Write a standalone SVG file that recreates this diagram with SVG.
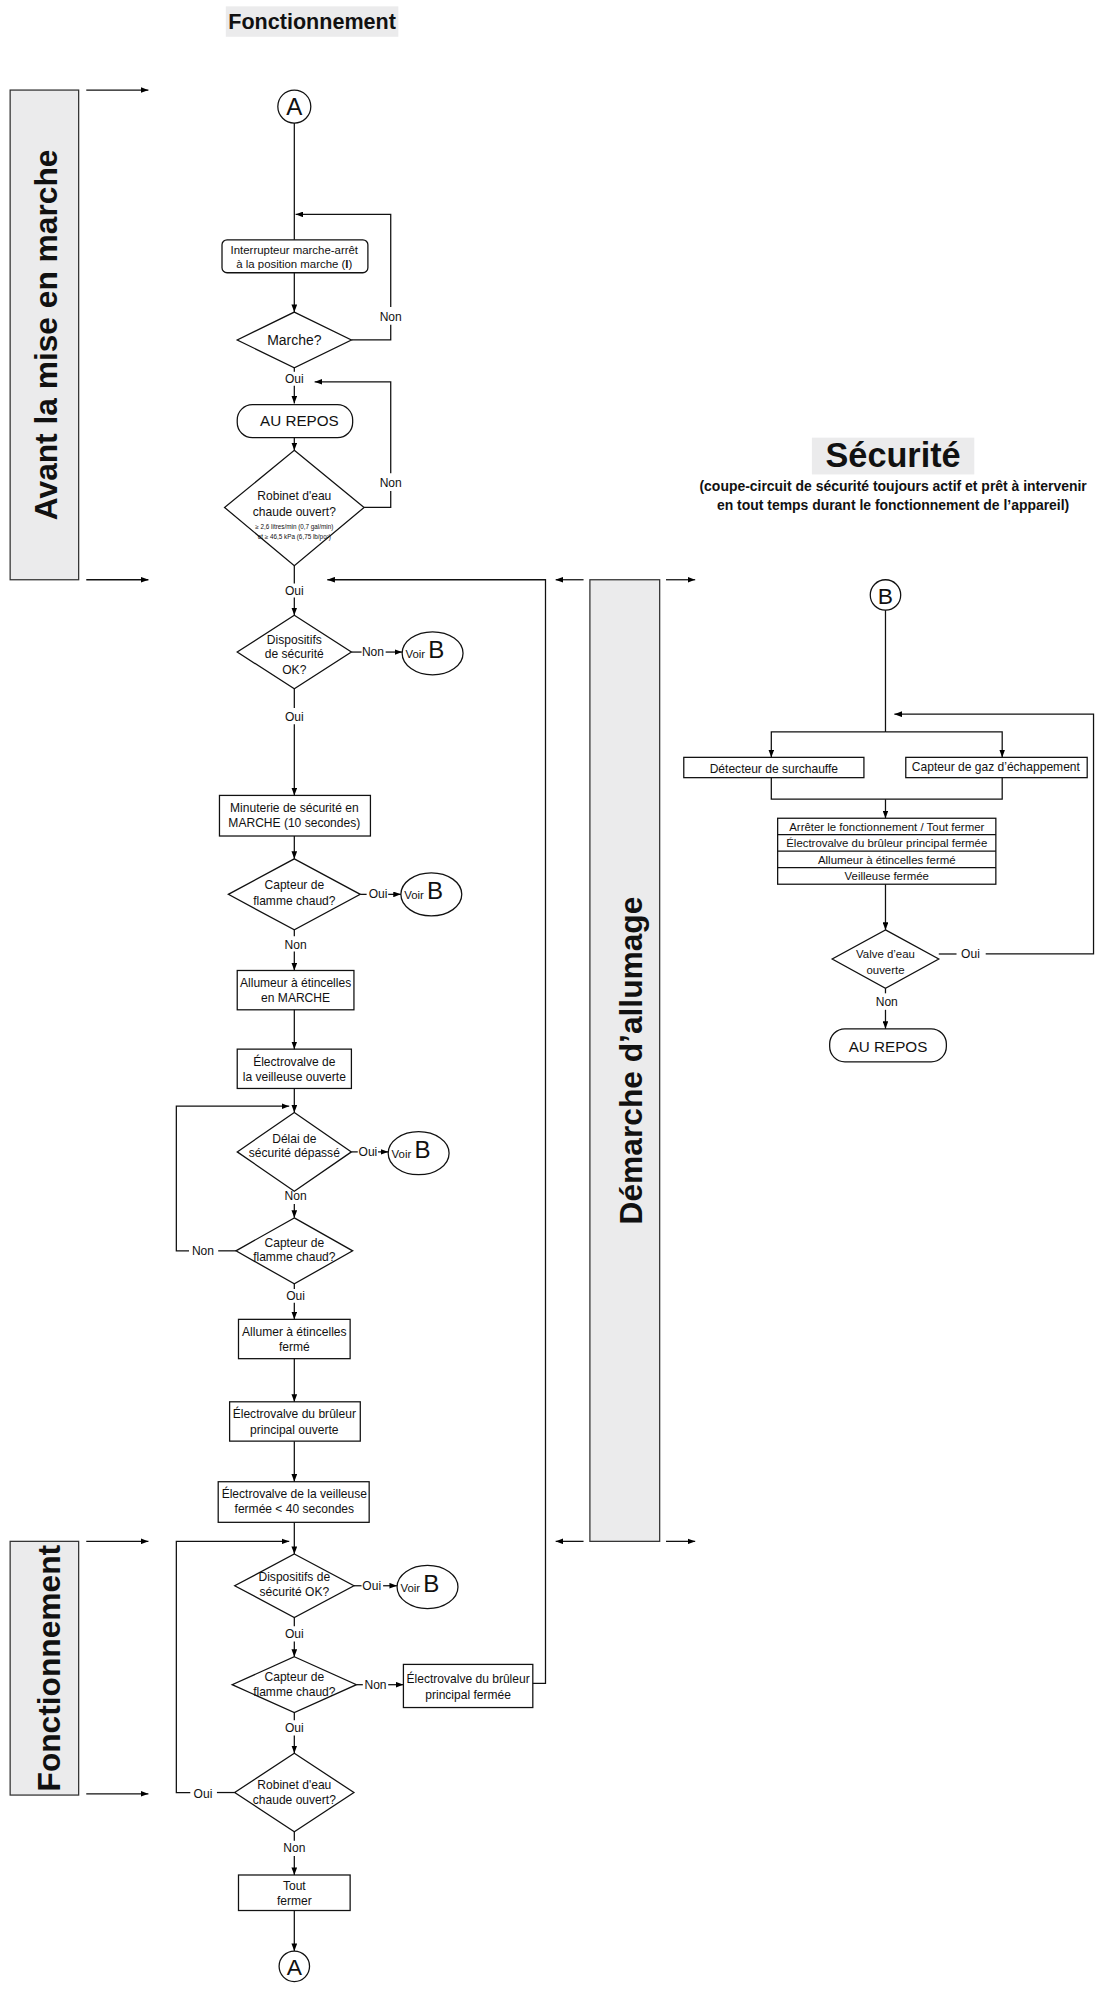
<svg xmlns="http://www.w3.org/2000/svg" width="1110" height="1998" viewBox="0 0 1110 1998">
<defs>
<marker id="ah" viewBox="0 0 8 6" refX="8" refY="3" markerWidth="6" markerHeight="4.5" markerUnits="userSpaceOnUse" orient="auto"><path d="M0,0 L8,3 L0,6 z" fill="#000"/></marker>
<style>
text{font-family:"Liberation Sans",Arial,sans-serif;fill:#111;text-anchor:middle}
.s{fill:#fff;stroke:#111;stroke-width:1}
.band{fill:#ebebec;stroke:#333;stroke-width:1}
.c line,.c polyline,.c path{fill:none;stroke:#111;stroke-width:1}
.a{marker-end:url(#ah)}
.t{font-size:9.5px}
.l{font-size:9.5px}
.big{font-size:25px;font-weight:bold}
</style>
</defs>
<rect width="1110" height="1998" fill="#fff"/>
<g transform="scale(1.2686)">
<g id="titles">
<rect x="178" y="5" width="136" height="24" fill="#ebebec"/>
<text x="246" y="23" style="font-size:17px;font-weight:bold">Fonctionnement</text>
<rect x="640" y="345" width="128" height="29" fill="#ebebec"/>
<text x="704" y="368" style="font-size:27px;font-weight:bold">Sécurité</text>
<text x="704" y="387" style="font-size:11px;font-weight:bold">(coupe-circuit de sécurité toujours actif et prêt à intervenir</text>
<text x="704" y="402" style="font-size:11px;font-weight:bold">en tout temps durant le fonctionnement de l’appareil)</text>
</g>
<g id="band1"><rect class="band" x="8" y="71" width="54" height="386"/><text class="big" transform="translate(45,264) rotate(-90)">Avant la mise en marche</text></g>
<g id="band2"><rect class="band" x="8" y="1215" width="54" height="200"/><text class="big" transform="translate(47,1315) rotate(-90)">Fonctionnement</text></g>
<g id="band3"><rect class="band" x="465" y="457" width="55" height="758"/><text class="big" transform="translate(506,836) rotate(-90)">Démarche d’allumage</text></g>
<g class="c" id="bandarrows">
<line class="a" x1="68" y1="71" x2="117" y2="71"/><line class="a" x1="68" y1="457" x2="117" y2="457"/>
<line class="a" x1="68" y1="1215" x2="117" y2="1215"/><line class="a" x1="68" y1="1414" x2="117" y2="1414"/>
<line class="a" x1="460" y1="457" x2="438" y2="457"/><line class="a" x1="525" y1="457" x2="548" y2="457"/>
<line class="a" x1="460" y1="1215" x2="438" y2="1215"/><line class="a" x1="525" y1="1215" x2="548" y2="1215"/>
</g>

<g id="nA1"><circle class="s" cx="232" cy="84" r="13"/><text x="232" y="91" style="font-size:19px">A</text></g>
<g id="n1"><rect class="s" x="175" y="189" width="115" height="26" rx="4"/><text class="t" x="232" y="200" style="font-size:9px">Interrupteur marche-arrêt</text><text class="t" x="232" y="211" style="font-size:9px">à la position marche (<tspan font-weight="bold">I</tspan>)</text></g>
<g id="n2"><polygon class="s" points="232,246 277,268 232,290 187,268"/><text x="232" y="272" style="font-size:11px">Marche?</text></g>
<g id="n3"><rect class="s" x="187" y="319" width="91" height="26" rx="12"/><text x="236" y="336" style="font-size:12px">AU REPOS</text></g>
<g id="n4"><polygon class="s" points="232,355 287,400 232,446 177,400"/><text class="t" x="232" y="394">Robinet d'eau</text><text class="t" x="232" y="407">chaude ouvert?</text><text x="232" y="417" style="font-size:5px">≥ 2,6 litres/min (0,7 gal/min)</text><text x="232" y="425" style="font-size:5px">et ≥ 46,5 kPa (6,75 lb/po²)</text></g>
<g id="n5"><polygon class="s" points="232,485 277,514 232,543 187,514"/><text class="t" x="232" y="508">Dispositifs</text><text class="t" x="232" y="519">de sécurité</text><text class="t" x="232" y="531">OK?</text></g>
<g id="vb1"><ellipse class="s" cx="341" cy="515" rx="24" ry="17"/><text x="335" y="519" style="font-size:9px">Voir <tspan style="font-size:19px">B</tspan></text></g>
<g id="n6"><rect class="s" x="173" y="627" width="119" height="32"/><text class="t" x="232" y="640">Minuterie de sécurité en</text><text class="t" x="232" y="652">MARCHE (10 secondes)</text></g>
<g id="n7"><polygon class="s" points="232,677 284,705 232,733 180,705"/><text class="t" x="232" y="701">Capteur de</text><text class="t" x="232" y="713">flamme chaud?</text></g>
<g id="vb2"><ellipse class="s" cx="340" cy="705" rx="24" ry="17"/><text x="334" y="709" style="font-size:9px">Voir <tspan style="font-size:19px">B</tspan></text></g>
<g id="n8"><rect class="s" x="187" y="765" width="92" height="31"/><text class="t" x="233" y="778">Allumeur à étincelles</text><text class="t" x="233" y="790">en MARCHE</text></g>
<g id="n9"><rect class="s" x="187" y="827" width="90" height="31"/><text class="t" x="232" y="840">Électrovalve de</text><text class="t" x="232" y="852">la veilleuse ouverte</text></g>
<g id="n10"><polygon class="s" points="232,877 277,908 232,939 187,908"/><text class="t" x="232" y="901">Délai de</text><text class="t" x="232" y="912">sécurité dépassé</text></g>
<g id="vb3"><ellipse class="s" cx="330" cy="909" rx="24" ry="17"/><text x="324" y="913" style="font-size:9px">Voir <tspan style="font-size:19px">B</tspan></text></g>
<g id="n11"><polygon class="s" points="232,960 278,986 232,1012 186,986"/><text class="t" x="232" y="983">Capteur de</text><text class="t" x="232" y="994">flamme chaud?</text></g>
<g id="n12"><rect class="s" x="188" y="1040" width="88" height="31"/><text class="t" x="232" y="1053">Allumer à étincelles</text><text class="t" x="232" y="1065">fermé</text></g>
<g id="n13"><rect class="s" x="181" y="1105" width="103" height="31"/><text class="t" x="232" y="1118">Électrovalve du brûleur</text><text class="t" x="232" y="1130">principal ouverte</text></g>
<g id="n14"><rect class="s" x="172" y="1168" width="119" height="32"/><text class="t" x="232" y="1181">Électrovalve de la veilleuse</text><text class="t" x="232" y="1193">fermée &lt; 40 secondes</text></g>
<g id="n15"><polygon class="s" points="232,1225 279,1250 232,1275 185,1250"/><text class="t" x="232" y="1246">Dispositifs de</text><text class="t" x="232" y="1258">sécurité OK?</text></g>
<g id="vb4"><ellipse class="s" cx="337" cy="1251" rx="24" ry="17"/><text x="331" y="1255" style="font-size:9px">Voir <tspan style="font-size:19px">B</tspan></text></g>
<g id="n16"><polygon class="s" points="232,1306 281,1328 232,1350 183,1328"/><text class="t" x="232" y="1325">Capteur de</text><text class="t" x="232" y="1337">flamme chaud?</text></g>
<g id="n17"><rect class="s" x="318" y="1312" width="102" height="34"/><text class="t" x="369" y="1327">Électrovalve du brûleur</text><text class="t" x="369" y="1339">principal fermée</text></g>
<g id="n18"><polygon class="s" points="232,1382 279,1413 232,1444 185,1413"/><text class="t" x="232" y="1410">Robinet d'eau</text><text class="t" x="232" y="1422">chaude ouvert?</text></g>
<g id="n19"><rect class="s" x="188" y="1478" width="88" height="28"/><text class="t" x="232" y="1490">Tout</text><text class="t" x="232" y="1502">fermer</text></g>
<g id="nA2"><circle class="s" cx="232" cy="1550" r="12"/><text x="232" y="1557" style="font-size:18px">A</text></g>

<g id="nB"><circle class="s" cx="698" cy="469" r="12"/><text x="698" y="476" style="font-size:18px">B</text></g>
<g id="r1"><rect class="s" x="539" y="597" width="142" height="16"/><text class="t" x="610" y="609">Détecteur de surchauffe</text></g>
<g id="r2"><rect class="s" x="714" y="597" width="143" height="16"/><text class="t" x="785" y="608">Capteur de gaz d’échappement</text></g>
<g id="r3"><rect class="s" x="613" y="645" width="172" height="52"/><line x1="613" y1="658" x2="785" y2="658" stroke="#111"/><line x1="613" y1="671" x2="785" y2="671" stroke="#111"/><line x1="613" y1="684" x2="785" y2="684" stroke="#111"/>
<text x="699" y="655" style="font-size:9px">Arrêter le fonctionnement / Tout fermer</text><text x="699" y="668" style="font-size:9px">Électrovalve du brûleur principal fermée</text><text x="699" y="681" style="font-size:9px">Allumeur à étincelles fermé</text><text x="699" y="694" style="font-size:9px">Veilleuse fermée</text></g>
<g id="r4"><polygon class="s" points="698,733 740,756 698,779 656,756"/><text class="t" x="698" y="755" style="font-size:9px">Valve d’eau</text><text class="t" x="698" y="768" style="font-size:9px">ouverte</text></g>
<g id="r5"><rect class="s" x="654" y="811" width="92" height="26" rx="12"/><text x="700" y="829" style="font-size:12px">AU REPOS</text></g>

<g class="c" id="connectors">
<line x1="232" y1="97" x2="232" y2="189"/>
<line class="a" x1="232" y1="215" x2="232" y2="246"/>
<polyline points="277,268 308,268 308,256"/><polyline class="a" points="308,242 308,169 233,169"/>
<line x1="232" y1="290" x2="232" y2="293"/><line class="a" x1="232" y1="304" x2="232" y2="318"/>
<polyline points="287,400 308,400 308,387"/><polyline class="a" points="308,373 308,301 248,301"/>
<line class="a" x1="232" y1="345" x2="232" y2="355"/>
<line x1="232" y1="446" x2="232" y2="460"/><line class="a" x1="232" y1="471" x2="232" y2="485"/>
<polyline class="a" points="420,1327 430,1327 430,457 258,457"/>
<line x1="277" y1="514" x2="285" y2="514"/><line class="a" x1="304" y1="514" x2="317" y2="514"/>
<line x1="232" y1="543" x2="232" y2="558"/><line class="a" x1="232" y1="571" x2="232" y2="627"/>
<line class="a" x1="232" y1="659" x2="232" y2="677"/>
<line x1="284" y1="705" x2="289" y2="705"/><line class="a" x1="306" y1="705" x2="316" y2="705"/>
<line x1="232" y1="733" x2="232" y2="738"/><line class="a" x1="232" y1="750" x2="232" y2="765"/>
<line class="a" x1="232" y1="796" x2="232" y2="827"/>
<line class="a" x1="232" y1="858" x2="232" y2="877"/>
<line x1="277" y1="908" x2="282" y2="908"/><line class="a" x1="298" y1="908" x2="306" y2="908"/>
<line class="a" x1="232" y1="949" x2="232" y2="960"/>
<line x1="186" y1="986" x2="172" y2="986"/><polyline class="a" points="149,986 139,986 139,872 228,872"/>
<line x1="232" y1="1012" x2="232" y2="1016"/><line class="a" x1="232" y1="1027" x2="232" y2="1040"/>
<line class="a" x1="232" y1="1071" x2="232" y2="1105"/>
<line class="a" x1="232" y1="1136" x2="232" y2="1168"/>
<line class="a" x1="232" y1="1200" x2="232" y2="1225"/>
<line x1="279" y1="1250" x2="285" y2="1250"/><line class="a" x1="302" y1="1250" x2="313" y2="1250"/>
<line x1="232" y1="1275" x2="232" y2="1282"/><line class="a" x1="232" y1="1294" x2="232" y2="1306"/>
<line x1="281" y1="1328" x2="286" y2="1328"/><line class="a" x1="306" y1="1328" x2="318" y2="1328"/>
<line x1="232" y1="1350" x2="232" y2="1356"/><line class="a" x1="232" y1="1368" x2="232" y2="1382"/>
<line x1="185" y1="1413" x2="171" y2="1413"/><polyline class="a" points="150,1413 139,1413 139,1215 228,1215"/>
<line x1="232" y1="1444" x2="232" y2="1451"/><line class="a" x1="232" y1="1463" x2="232" y2="1478"/>
<line class="a" x1="232" y1="1506" x2="232" y2="1538"/>
<line x1="698" y1="481" x2="698" y2="577"/>
<polyline class="a" points="698,577 608,577 608,597"/><polyline class="a" points="698,577 790,577 790,597"/>
<polyline points="608,613 608,630 790,630 790,613"/>
<line class="a" x1="698" y1="630" x2="698" y2="645"/>
<line class="a" x1="698" y1="697" x2="698" y2="733"/>
<line x1="740" y1="752" x2="754" y2="752"/><polyline class="a" points="777,752 862,752 862,563 705,563"/>
<line x1="698" y1="779" x2="698" y2="783"/><line class="a" x1="698" y1="796" x2="698" y2="811"/>
</g>
<g id="labels" class="l">
<text class="l" x="308" y="253">Non</text><text class="l" x="232" y="302">Oui</text><text class="l" x="308" y="384">Non</text>
<text class="l" x="232" y="469">Oui</text><text class="l" x="294" y="517">Non</text><text class="l" x="232" y="568">Oui</text>
<text class="l" x="298" y="708">Oui</text><text class="l" x="233" y="748">Non</text><text class="l" x="290" y="911">Oui</text>
<text class="l" x="233" y="946">Non</text><text class="l" x="160" y="989">Non</text><text class="l" x="233" y="1025">Oui</text>
<text class="l" x="293" y="1253">Oui</text><text class="l" x="232" y="1291">Oui</text><text class="l" x="296" y="1331">Non</text>
<text class="l" x="232" y="1365">Oui</text><text class="l" x="160" y="1417">Oui</text><text class="l" x="232" y="1460">Non</text>
<text class="l" x="765" y="755">Oui</text><text class="l" x="699" y="793">Non</text>
</g>
</g>
</svg>
